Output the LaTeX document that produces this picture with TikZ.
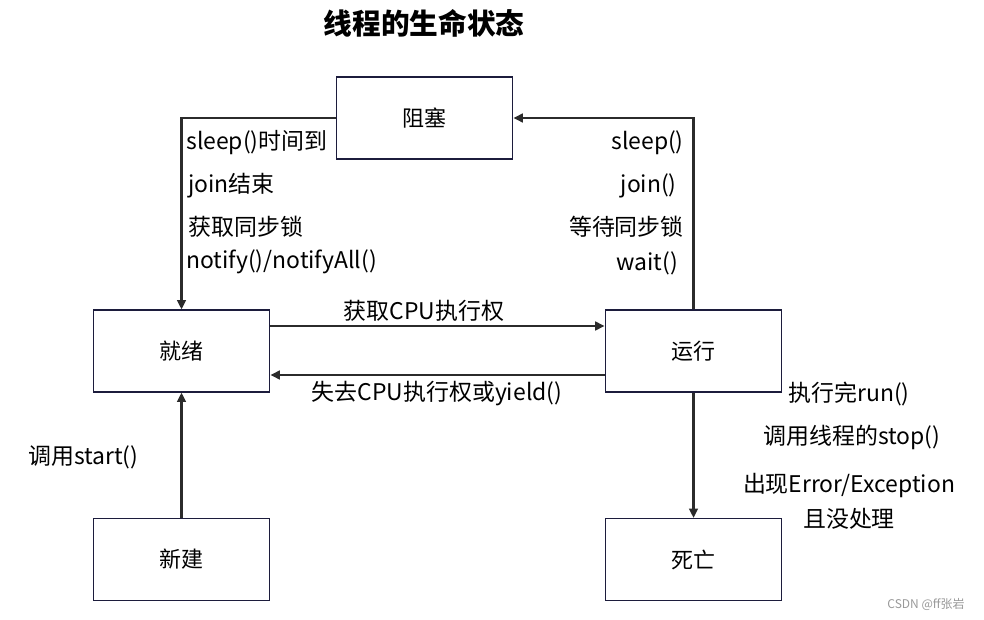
\documentclass[tikz,border=0pt]{standalone}
\usepackage{fontspec}
\setmainfont{Noto Sans CJK SC}
\usetikzlibrary{arrows.meta}
\definecolor{boxline}{HTML}{1C1C3C}
\definecolor{conn}{HTML}{2B2B2B}
\begin{document}
\begin{tikzpicture}[x=0.75pt,y=-0.75pt,
  box/.style={draw=boxline,line width=0.9pt,minimum width=132.5pt,minimum height=61.5pt,inner sep=0pt,font=\fontsize{16.5}{19}\selectfont},
  conn/.style={draw=conn,line width=1.6pt,-{Triangle[length=7pt,width=6.5pt]}},
  lbl/.style={inner sep=0pt,font=\fontsize{17.2}{20}\selectfont,text=black}]
\useasboundingbox[fill=white] (0,0) rectangle (984,620);
\node[font=\bfseries\fontsize{21.5}{25}\selectfont] (title) at (424,23) {线程的生命状态};
\node[box] (zuse) at (424.5,118) {阻塞};
\node[box] (jiuxu) at (181.5,351) {就绪};
\node[box] (yunxing) at (693.5,351) {运行};
\node[box] (xinjian) at (181.5,559.5) {新建};
\node[box] (siwang) at (693.5,559.5) {死亡};
% connectors
\draw[conn] (zuse.west) -| (jiuxu.north);
\draw[conn] (yunxing.north) |- (zuse.east);
\draw[conn] ([yshift=18.75pt]jiuxu.east) -- ([yshift=18.75pt]yunxing.west);
\draw[conn] ([yshift=-18pt]yunxing.west) -- ([yshift=-18pt]jiuxu.east);
\draw[conn] (xinjian.north) -- (jiuxu.south);
\draw[conn] (yunxing.south) -- (siwang.north);
% left labels
\node[lbl,anchor=west] (l1) at (186,143) {sleep()时间到};
\node[lbl,anchor=west] (l2) at (188,186) {join结束};
\node[lbl,anchor=west] (l3) at (188,227) {获取同步锁};
\node[lbl,anchor=west] (l4) at (186,262) {notify()/notifyAll()};
% right labels
\node[lbl,anchor=east] (r1) at (684,143) {sleep()};
\node[lbl,anchor=east] (r2) at (677,186) {join()};
\node[lbl,anchor=east] (r3) at (684,227) {等待同步锁};
\node[lbl,anchor=east] (r4) at (678,263) {wait()};
% middle labels
\node[lbl] (m1) at (424,311) {获取CPU执行权};
\node[lbl] (m2) at (437,394) {失去CPU执行权或yield()};
\node[lbl,anchor=west] (s1) at (28,457) {调用start()};
% death labels
\node[lbl] (d1) at (849,394) {执行完run()};
\node[lbl] (d2) at (852,437) {调用线程的stop()};
\node[lbl] (d3) at (849,486) {出现Error/Exception};
\node[lbl] (d4) at (849,519) {且没处理};
\node[inner sep=0pt,font=\fontsize{9}{10}\selectfont,text=black!40] (wm) at (926,604) {CSDN @ff张岩};
\end{tikzpicture}
\end{document}
